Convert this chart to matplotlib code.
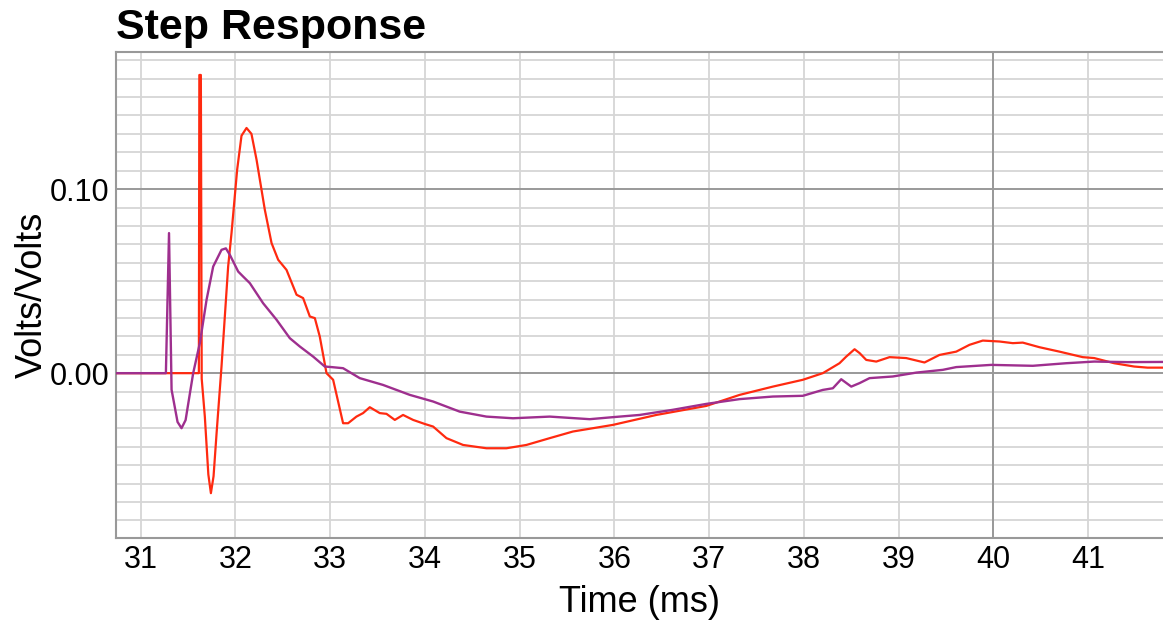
import numpy as np
import matplotlib
matplotlib.use("Agg")
import matplotlib.pyplot as plt
from matplotlib.ticker import MultipleLocator, FormatStrFormatter

plt.rcParams['font.family'] = ['Liberation Sans', 'DejaVu Sans']

# time (ms) / volts-per-volt
red_t = [30.74, 31.615, 31.620, 31.636, 31.645, 31.678, 31.715, 31.742, 31.770, 31.802,
         31.854, 31.924, 31.960, 32.019, 32.065, 32.118, 32.170, 32.224, 32.311, 32.382,
         32.452, 32.540, 32.646, 32.715, 32.786, 32.839, 32.891, 32.962, 33.032, 33.137,
         33.190, 33.278, 33.348, 33.419, 33.524, 33.595, 33.683, 33.770, 33.876, 33.999,
         34.087, 34.228, 34.403, 34.650, 34.861, 35.072, 35.318, 35.563, 35.985, 36.443,
         36.970, 37.322, 37.673, 37.989, 38.200, 38.376, 38.447, 38.535, 38.588, 38.658,
         38.764, 38.904, 39.080, 39.273, 39.431, 39.608, 39.748, 39.888, 40.064, 40.205,
         40.310, 40.486, 40.697, 40.943, 41.064, 41.275, 41.486, 41.627, 41.80]
red_v = [0.0, 0.0, 0.162, 0.162, -0.003, -0.0236, -0.055, -0.0652, -0.056, -0.0326,
         0.0036, 0.0579, 0.0763, 0.1105, 0.1290, 0.1332, 0.1300, 0.1159, 0.0888, 0.0707,
         0.0616, 0.0561, 0.0426, 0.0408, 0.0308, 0.0299, 0.0199, 0.0, -0.0036, -0.0272,
         -0.0272, -0.0236, -0.0217, -0.0185, -0.0217, -0.0221, -0.0254, -0.0227, -0.0254, -0.0276,
         -0.0290, -0.0353, -0.0390, -0.0408, -0.0408, -0.0390, -0.0353, -0.0317, -0.0281, -0.0227,
         -0.0178, -0.0118, -0.0073, -0.0036, 0.0, 0.0054, 0.0090, 0.0130, 0.0109, 0.0072,
         0.0063, 0.0087, 0.0082, 0.0058, 0.0099, 0.0117, 0.0154, 0.0177, 0.0172, 0.0163,
         0.0166, 0.0141, 0.0117, 0.0087, 0.0082, 0.0054, 0.0036, 0.0030, 0.0030]

purple_t = [30.74, 31.267, 31.30, 31.327, 31.39, 31.432, 31.475, 31.555, 31.626, 31.696,
            31.766, 31.854, 31.900, 31.942, 32.030, 32.082, 32.153, 32.293, 32.435, 32.575,
            32.680, 32.821, 32.944, 33.015, 33.137, 33.313, 33.559, 33.841, 34.087, 34.368,
            34.650, 34.930, 35.318, 35.740, 35.985, 36.267, 36.618, 36.970, 37.322, 37.673,
            37.989, 38.200, 38.306, 38.394, 38.500, 38.588, 38.693, 38.939, 39.186, 39.466,
            39.608, 39.977, 40.416, 40.768, 41.064, 41.416, 41.80]
purple_v = [0.0, 0.0, 0.0761, -0.009, -0.0265, -0.0299, -0.0255, 0.0, 0.0165, 0.0398,
            0.0579, 0.0670, 0.0678, 0.0643, 0.0552, 0.0525, 0.0489, 0.0380, 0.0290, 0.0190,
            0.0145, 0.0090, 0.0036, 0.0033, 0.0027, -0.0027, -0.0064, -0.0118, -0.0154, -0.0209,
            -0.0236, -0.0245, -0.0236, -0.0250, -0.0239, -0.0227, -0.0199, -0.0167, -0.0141, -0.0127,
            -0.0123, -0.0091, -0.0082, -0.0033, -0.0073, -0.0054, -0.0027, -0.0018, 0.0003, 0.0018,
            0.0033, 0.0045, 0.0040, 0.0054, 0.0063, 0.0060, 0.0061]

fig = plt.figure(figsize=(11.63, 6.23), dpi=100)
ax = fig.add_axes([0.0997, 0.136, 0.9003, 0.780])

ax.plot(red_t, red_v, color='#ff2a10', lw=1.6, zorder=3)
ax.plot(purple_t, purple_v, color='#9e2f8e', lw=1.7, zorder=4)

ax.set_xlim(30.74, 41.79)
ax.set_ylim(-0.0897, 0.1743)

ax.xaxis.set_major_locator(MultipleLocator(1))
ax.yaxis.set_major_locator(MultipleLocator(0.1))
ax.yaxis.set_minor_locator(MultipleLocator(0.01))
ax.yaxis.set_major_formatter(FormatStrFormatter('%.2f'))

ax.grid(True, axis='x', which='major', color='#d6d6d6', lw=1.3)
ax.grid(True, axis='y', which='minor', color='#d6d6d6', lw=1.3)
ax.grid(True, axis='y', which='major', color='#999999', lw=1.4)
ax.axvline(40, color='#999999', lw=1.4, zorder=1)
ax.set_axisbelow(True)

ax.tick_params(axis='both', which='both', length=0, labelsize=22)
ax.tick_params(axis='x', pad=5)
ax.tick_params(axis='y', pad=4.5)

for s in ['left', 'bottom', 'top']:
    ax.spines[s].set_color('#999999')
    ax.spines[s].set_linewidth(1.5)
ax.spines['right'].set_visible(False)

ax.set_xlabel('Time (ms)', fontsize=26)
ax.xaxis.label.set_va('baseline')
ax.xaxis.set_label_coords(0.5, -0.151)
ax.set_ylabel('Volts/Volts', fontsize=26)
ax.yaxis.label.set_va('baseline')
ax.yaxis.set_label_coords(-0.0707, 0.5)

ax.text(0.0, 1.0274, 'Step Response', transform=ax.transAxes, fontsize=31,
        fontweight='bold', ha='left', va='baseline')

fig.savefig('out.png', dpi=100)
